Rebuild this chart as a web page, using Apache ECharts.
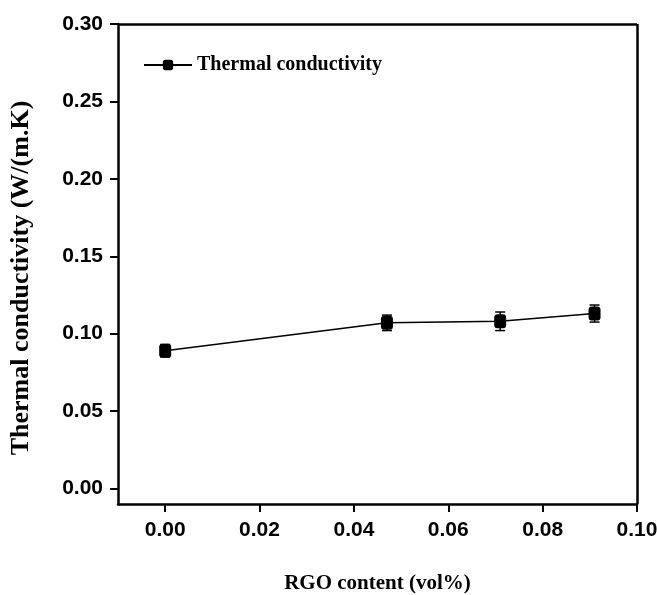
<!DOCTYPE html>
<html>
<head>
<meta charset="utf-8">
<script src="https://cdn.jsdelivr.net/npm/echarts@6/dist/echarts.min.js"></script>
<style>
  html, body { margin: 0; padding: 0; background: #fff; }
  #chart { width: 657px; height: 595px; }
</style>
</head>
<body>
<div id="chart"></div>
<script>
// data
var rgoContent = [0.0, 0.047, 0.071, 0.091]
var conductivity = [0.089, 0.107, 0.108, 0.113]
var errorBar = [0.004, 0.005, 0.006, 0.0055]
var xTicks = [0.00, 0.02, 0.04, 0.06, 0.08, 0.10]
var yTicks = [0.00, 0.05, 0.10, 0.15, 0.20, 0.25, 0.30]

var chart = echarts.init(document.getElementById('chart'))

var points = rgoContent.map(function (x, i) { return [x, conductivity[i]] })
var errs = rgoContent.map(function (x, i) {
  return [x, conductivity[i] - errorBar[i], conductivity[i] + errorBar[i]]
})

chart.setOption({
  animation: false,
  backgroundColor: '#fff',
  grid: { left: 118, right: 20, top: 24, bottom: 91, outerBoundsMode: 'none', containLabel: false },
  legend: {
    data: ['Thermal conductivity'],
    left: 138,
    top: 50,
    itemWidth: 48,
    itemHeight: 13,
    itemGap: 8,
    textStyle: { color: '#000', fontFamily: 'Liberation Serif', fontWeight: 'bold', fontSize: 20 }
  },
  xAxis: {
    type: 'value',
    min: -0.01,
    max: 0.10,
    interval: 0.02,
    name: 'RGO content (vol%)',
    nameLocation: 'middle',
    nameGap: 69,
    nameTextStyle: { color: '#000', fontFamily: 'Liberation Serif', fontWeight: 'bold', fontSize: 21 },
    axisLine: { onZero: false, lineStyle: { color: '#000', width: 2.5 } },
    axisTick: { show: true, length: 8, lineStyle: { color: '#000', width: 2 }, customValues: xTicks },
    axisLabel: {
      margin: 16,
      color: '#000',
      fontFamily: 'Liberation Sans',
      fontWeight: 'bold',
      fontSize: 21,
      customValues: xTicks,
      formatter: function (v) { return v.toFixed(2) }
    },
    splitLine: { show: false }
  },
  yAxis: {
    type: 'value',
    min: -0.01,
    max: 0.30,
    name: 'Thermal conductivity (W/(m.K)',
    nameLocation: 'middle',
    nameGap: 84,
    nameTextStyle: {
      color: '#000', fontFamily: 'Liberation Serif', fontWeight: 'bold', fontSize: 26,
      padding: [0, 28, 0, 0]
    },
    axisLine: { onZero: false, lineStyle: { color: '#000', width: 2.5 } },
    axisTick: { show: true, length: 8, lineStyle: { color: '#000', width: 2 }, customValues: yTicks },
    axisLabel: {
      margin: 15,
      color: '#000',
      fontFamily: 'Liberation Sans',
      fontWeight: 'bold',
      fontSize: 21,
      customValues: yTicks,
      formatter: function (v) { return v.toFixed(2) }
    },
    splitLine: { show: false }
  },
  series: [
    {
      // top and right frame lines
      type: 'line',
      silent: true,
      data: [],
      markLine: {
        silent: true,
        symbol: 'none',
        label: { show: false },
        lineStyle: { color: '#000', width: 2.5, type: 'solid' },
        data: [
          [{ coord: [-0.01, 0.30] }, { coord: [0.10, 0.30] }],
          [{ coord: [0.10, -0.01] }, { coord: [0.10, 0.30] }]
        ]
      }
    },
    {
      name: 'Thermal conductivity',
      type: 'line',
      data: points,
      symbol: 'roundRect',
      symbolSize: [12, 14],
      itemStyle: { color: '#000' },
      lineStyle: { color: '#000', width: 1.5 },
      z: 3
    },
    {
      type: 'custom',
      data: errs,
      z: 4,
      renderItem: function (params, api) {
        var x = api.value(0)
        var lo = api.coord([x, api.value(1)])
        var hi = api.coord([x, api.value(2)])
        var w = 5
        var st = { stroke: '#000', lineWidth: 1.5 }
        return {
          type: 'group',
          children: [
            { type: 'line', shape: { x1: lo[0], y1: lo[1], x2: hi[0], y2: hi[1] }, style: st },
            { type: 'line', shape: { x1: lo[0] - w, y1: lo[1], x2: lo[0] + w, y2: lo[1] }, style: st },
            { type: 'line', shape: { x1: hi[0] - w, y1: hi[1], x2: hi[0] + w, y2: hi[1] }, style: st }
          ]
        }
      }
    }
  ]
})
</script>
</body>
</html>
